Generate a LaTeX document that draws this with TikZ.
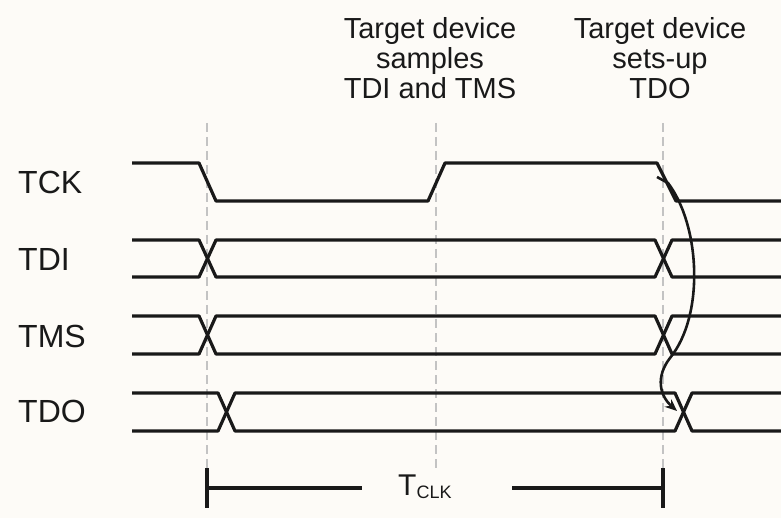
\documentclass[tikz,border=0pt]{standalone}
\usepackage{fontspec}
\setmainfont{Liberation Sans}
\usetikzlibrary{arrows.meta}
\definecolor{paper}{RGB}{253,251,247}
\definecolor{guide}{RGB}{195,195,195}
\definecolor{ink}{RGB}{25,25,25}
\tikzset{
  sig/.style={line width=3.2pt, line join=round, ink},
  guideline/.style={line width=2.4pt, guide, dash pattern=on 9pt off 5pt},
  signame/.style={anchor=west, inner sep=0pt, text=ink, font=\fontsize{32}{32}\selectfont},
  note/.style={anchor=north, inner sep=0pt, align=center, text=ink,
    font=\fontsize{29}{30}\selectfont},
  tick/.style={line width=3.2pt, ink},
  cause/.style={line width=2.6pt, ink, -{Stealth[length=12pt,width=10pt]}}
}
\begin{document}
\begin{tikzpicture}[x=1pt,y=-1pt]
  \fill[paper] (0,0) rectangle (781,518);
  \useasboundingbox (0,0) rectangle (781,518);

  % clock edge guides
  \coordinate (g1t) at (207,123); \coordinate (g1b) at (207,468);
  \coordinate (g2t) at (436,123); \coordinate (g2b) at (436,470);
  \coordinate (g3t) at (663,123); \coordinate (g3b) at (663,468);
  \draw[guideline] (g1t) -- (g1b);
  \draw[guideline] (g2t) -- (g2b);
  \draw[guideline] (g3t) -- (g3b);

  % annotations
  \node[note] (sample) at (430,17) {Target device\\samples\\TDI and TMS};
  \node[note] (setup) at (660,17) {Target device\\sets-up\\TDO};

  % signal names
  \node[signame] (tck) at (18,182) {TCK};
  \node[signame] (tdi) at (18,259) {TDI};
  \node[signame] (tms) at (18,336) {TMS};
  \node[signame] (tdo) at (18,411) {TDO};

  % TCK
  \draw[sig] (132,163) -- (199,163) -- (216,201) -- (428,201) -- (445,163)
    -- (657,163) -- (676,201) -- (781,201);
  % TDI
  \draw[sig] (132,240) -- (199,240) -- (216,277) -- (655,277) -- (672,240) -- (781,240);
  \draw[sig] (132,277) -- (199,277) -- (216,240) -- (655,240) -- (672,277) -- (781,277);
  % TMS
  \draw[sig] (132,316) -- (199,316) -- (216,354) -- (655,354) -- (672,316) -- (781,316);
  \draw[sig] (132,354) -- (199,354) -- (216,316) -- (655,316) -- (672,354) -- (781,354);
  % TDO
  \draw[sig] (132,393) -- (218,393) -- (235,431) -- (675,431) -- (692,393) -- (781,393);
  \draw[sig] (132,431) -- (218,431) -- (235,393) -- (675,393) -- (692,431) -- (781,431);

  % falling TCK edge launches TDO
  \coordinate (edge) at (657,177);
  \coordinate (out) at (677,411);
  \draw[cause] (edge) -- (668,183)
    .. controls (700,225) and (705,315) .. (670,358)
    .. controls (656,376) and (659,395) .. (out);

  % clock period
  \coordinate (pl) at (207,488); \coordinate (pr) at (663,488);
  \coordinate (pla) at (362,488); \coordinate (pra) at (512,488);
  \draw[tick] (207,468) -- (207,508);
  \draw[tick] (663,468) -- (663,508);
  \draw[tick] (pl) -- (pla);
  \draw[tick] (pra) -- (pr);
  \node[anchor=base west, inner sep=0pt, text=ink] (tclk) at (398,495)
    {\fontsize{30}{30}\selectfont T\fontsize{18}{18}\selectfont\raisebox{-3pt}{CLK}};
\end{tikzpicture}
\end{document}
